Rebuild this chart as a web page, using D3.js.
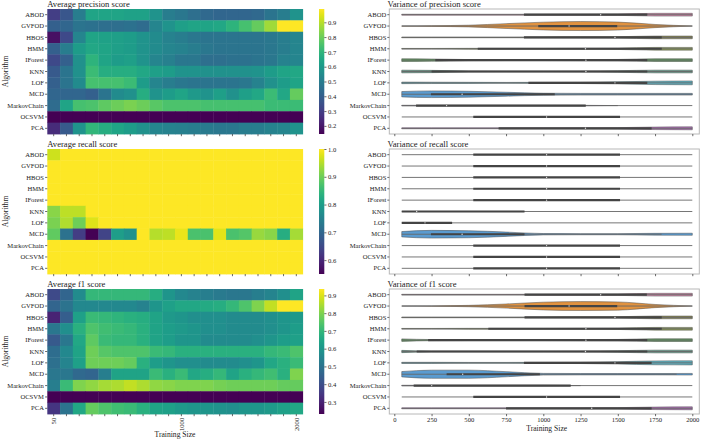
<!DOCTYPE html>
<html><head><meta charset="utf-8">
<script src="https://cdn.jsdelivr.net/npm/d3@7"></script>
<style>
body{margin:0;background:#fff}
svg{display:block}
text{font-family:"Liberation Serif","Times New Roman",serif;fill:#222}
</style>
</head><body>
<svg id="c" width="708" height="440"></svg>
<script>
const algorithms = ["ABOD","GVFOD","HBOS","HMM","IForest","KNN","LOF","MCD","MarkovChain","OCSVM","PCA"];
const sizeLabels = ["50","","","","","","","","","","1000","","","","","","","","","2000"];

const precisionAvg = [
 [0.30,0.37,0.50,0.64,0.64,0.64,0.63,0.63,0.58,0.50,0.48,0.45,0.43,0.42,0.42,0.42,0.43,0.47,0.50,0.58],
 [0.40,0.42,0.47,0.46,0.45,0.45,0.46,0.44,0.53,0.58,0.62,0.64,0.64,0.65,0.69,0.74,0.79,0.87,0.99,0.99],
 [0.18,0.33,0.53,0.64,0.63,0.62,0.61,0.58,0.55,0.52,0.50,0.48,0.47,0.47,0.47,0.47,0.47,0.48,0.50,0.53],
 [0.40,0.50,0.61,0.65,0.64,0.62,0.61,0.58,0.55,0.53,0.52,0.50,0.48,0.47,0.47,0.47,0.47,0.48,0.50,0.53],
 [0.33,0.40,0.57,0.69,0.64,0.61,0.62,0.58,0.53,0.51,0.48,0.48,0.45,0.45,0.46,0.46,0.47,0.48,0.52,0.53],
 [0.38,0.47,0.57,0.72,0.67,0.67,0.67,0.65,0.62,0.61,0.58,0.58,0.57,0.57,0.57,0.57,0.58,0.61,0.64,0.65],
 [0.40,0.47,0.55,0.74,0.74,0.74,0.72,0.61,0.53,0.50,0.48,0.47,0.47,0.47,0.47,0.48,0.52,0.57,0.61,0.64],
 [0.42,0.42,0.42,0.40,0.47,0.55,0.57,0.67,0.58,0.61,0.64,0.60,0.58,0.62,0.57,0.62,0.65,0.72,0.65,0.79],
 [0.44,0.64,0.74,0.75,0.78,0.80,0.82,0.80,0.77,0.75,0.75,0.75,0.74,0.74,0.74,0.74,0.74,0.72,0.72,0.72],
 [0.145,0.145,0.145,0.145,0.145,0.145,0.145,0.145,0.145,0.145,0.145,0.145,0.145,0.145,0.145,0.145,0.145,0.145,0.145,0.145],
 [0.25,0.38,0.58,0.70,0.67,0.64,0.61,0.57,0.53,0.52,0.51,0.50,0.49,0.48,0.48,0.50,0.50,0.52,0.53,0.58]
];
const recallAvg = [
 [0.965,1,1,1,1,1,1,1,1,1,1,1,1,1,1,1,1,1,1,1],
 [1,1,1,1,1,1,1,1,1,1,1,1,1,1,1,1,1,1,1,1],
 [1,1,1,1,1,1,1,1,1,1,1,1,1,1,1,1,1,1,1,1],
 [1,1,1,1,1,1,1,1,1,1,1,1,1,1,1,1,1,1,1,1],
 [1,1,1,1,1,1,1,1,1,1,1,1,1,1,1,1,1,1,1,1],
 [0.92,0.955,0.955,1,1,1,1,1,1,1,1,1,1,1,1,1,1,1,1,1],
 [0.91,0.946,0.90,0.978,1,1,1,1,1,1,1,1,1,1,1,1,1,1,1,1],
 [0.89,0.72,0.63,0.55,0.64,0.80,0.78,1.0,0.95,0.955,0.985,0.87,0.87,0.98,0.87,0.88,0.93,0.92,0.83,0.94],
 [1,1,1,1,1,1,1,1,1,1,1,1,1,1,1,1,1,1,1,1],
 [1,1,1,1,1,1,1,1,1,1,1,1,1,1,1,1,1,1,1,1],
 [1,1,1,1,1,1,1,1,1,1,1,1,1,1,1,1,1,1,1,1]
];
const f1Avg = [
 [0.39,0.46,0.57,0.70,0.70,0.70,0.70,0.70,0.67,0.60,0.56,0.54,0.53,0.52,0.51,0.51,0.53,0.55,0.58,0.64],
 [0.46,0.50,0.56,0.56,0.56,0.56,0.56,0.54,0.60,0.63,0.65,0.65,0.66,0.67,0.70,0.74,0.80,0.87,0.936,0.936],
 [0.30,0.44,0.63,0.71,0.70,0.69,0.68,0.67,0.64,0.61,0.60,0.58,0.58,0.58,0.57,0.57,0.57,0.58,0.60,0.61],
 [0.51,0.58,0.68,0.74,0.72,0.71,0.70,0.68,0.64,0.62,0.61,0.60,0.58,0.58,0.57,0.57,0.57,0.58,0.60,0.62],
 [0.43,0.51,0.65,0.76,0.71,0.70,0.70,0.68,0.64,0.62,0.60,0.60,0.57,0.57,0.57,0.57,0.58,0.60,0.62,0.63],
 [0.48,0.56,0.64,0.78,0.75,0.74,0.74,0.74,0.71,0.70,0.68,0.68,0.68,0.68,0.68,0.68,0.68,0.70,0.71,0.74],
 [0.49,0.55,0.63,0.78,0.78,0.78,0.77,0.68,0.62,0.60,0.58,0.58,0.57,0.57,0.57,0.58,0.60,0.65,0.68,0.71],
 [0.51,0.51,0.47,0.46,0.53,0.64,0.64,0.64,0.71,0.68,0.71,0.65,0.67,0.70,0.64,0.68,0.70,0.72,0.68,0.80],
 [0.53,0.71,0.80,0.82,0.84,0.85,0.87,0.85,0.82,0.81,0.80,0.80,0.80,0.79,0.78,0.78,0.78,0.78,0.77,0.77],
 [0.232,0.232,0.232,0.232,0.232,0.232,0.232,0.232,0.232,0.232,0.232,0.232,0.232,0.232,0.232,0.232,0.232,0.232,0.232,0.232],
 [0.34,0.50,0.65,0.77,0.74,0.72,0.71,0.68,0.64,0.63,0.61,0.60,0.60,0.59,0.58,0.60,0.60,0.61,0.63,0.65]
];
const precisionTicks = [0.2,0.3,0.4,0.5,0.6,0.7,0.8,0.9];
const recallTicks = [0.6,0.7,0.8,0.9,1.0];
const f1Ticks = [0.3,0.4,0.5,0.6,0.7,0.8,0.9];

// violin data: relative density at training sizes, inner box [q1, median, q3], whisker [lo, hi]
const violinSizes = [50,250,500,750,1000,1250,1500,1750,2000];
const sizeTicks = [0,250,500,750,1000,1250,1500,1750,2000];
const violinColors = ["#d68aae","#e1923f","#8c8a58","#8fa055","#5c9a5a","#5e9a88","#5fb3c3","#5a9bd0","#8c7ab8","#a0a0a0","#b070b8"];

const precisionDensity = [
 [0.08,0.08,0.08,0.08,0.08,0.10,0.12,0.24,0.24],
 [0.02,0.06,0.15,0.42,0.68,0.79,0.70,0.28,0.0],
 [0.06,0.06,0.06,0.06,0.08,0.10,0.12,0.24,0.24],
 [0.06,0.06,0.08,0.08,0.08,0.10,0.12,0.24,0.24],
 [0.24,0.20,0.10,0.08,0.08,0.10,0.12,0.24,0.24],
 [0.24,0.20,0.10,0.08,0.08,0.10,0.14,0.24,0.24],
 [0.14,0.12,0.10,0.08,0.10,0.12,0.18,0.30,0.34],
 [0.47,0.59,0.52,0.35,0.18,0.15,0.15,0.15,0.15],
 [0.06,0.06,0.06,0.06,0.06,0.05,0,0,0],
 [0,0,0,0,0,0,0,0,0],
 [0.08,0.08,0.08,0.08,0.08,0.10,0.12,0.22,0.26]
];
const precisionBox = [[870,1385,1698],[966,1173,1496],[870,1481,1795],[560,1283,1795],[275,1286,1698],[250,1286,1698],[900,1481,1698],[246,455,1077],[146,351,1285],[530,1022,1515],[700,1283,1727]];
const precisionWhisker = [[50,2000],[50,2000],[50,2000],[50,2000],[50,2000],[50,2000],[50,2000],[50,2000],[50,2000],[50,2000],[50,2000]];

const recallDensity = [
 [0,0,0,0,0,0,0,0,0],
 [0,0,0,0,0,0,0,0,0],
 [0,0,0,0,0,0,0,0,0],
 [0,0,0,0,0,0,0,0,0],
 [0,0,0,0,0,0,0,0,0],
 [0,0,0,0,0,0,0,0,0],
 [0,0,0,0,0,0,0,0,0],
 [0.47,0.68,0.62,0.38,0.12,0.10,0.10,0.16,0.18],
 [0,0,0,0,0,0,0,0,0],
 [0,0,0,0,0,0,0,0,0],
 [0,0,0,0,0,0,0,0,0]
];
const recallBox = [[530,1022,1515],[530,1022,1515],[530,1022,1515],[530,1022,1515],[530,1022,1515],[50,150,874],[50,206,388],[246,455,874],[530,1022,1515],[530,1022,1515],[530,1022,1515]];
const recallWhisker = [[50,2000],[50,2000],[50,2000],[50,2000],[50,2000],[50,2000],[50,2000],[50,1794],[50,2000],[50,2000],[50,2000]];

const f1Density = [
 [0.07,0.07,0.07,0.07,0.08,0.10,0.12,0.24,0.24],
 [0.0,0.03,0.12,0.36,0.68,0.78,0.72,0.28,0.0],
 [0.06,0.06,0.06,0.06,0.08,0.10,0.12,0.24,0.24],
 [0.06,0.06,0.08,0.08,0.08,0.10,0.12,0.24,0.24],
 [0.22,0.10,0.08,0.08,0.08,0.10,0.12,0.24,0.24],
 [0.20,0.08,0.08,0.08,0.08,0.10,0.14,0.24,0.24],
 [0.10,0.10,0.08,0.08,0.10,0.12,0.20,0.34,0.36],
 [0.47,0.72,0.72,0.45,0.15,0.12,0.12,0.12,0.14],
 [0.06,0.06,0.06,0.06,0.06,0,0,0,0],
 [0,0,0,0,0,0,0,0,0],
 [0.08,0.08,0.08,0.08,0.08,0.10,0.12,0.22,0.26]
];
const f1Box = [[874,1385,1695],[874,1173,1496],[874,1481,1795],[631,1286,1795],[227,1286,1698],[150,1283,1698],[870,1481,1727],[351,459,977],[130,251,1184],[530,1022,1515],[750,1325,1727]];
const f1Whisker = [[50,2000],[50,2000],[50,2000],[50,2000],[50,2000],[50,2000],[50,2000],[50,1895],[50,2000],[50,2000],[50,2000]];

const svg = d3.select("#c");
const tops = [9, 149, 289], H = 125;
const hx0 = 47.3, hx1 = 302.7;
const cbX = 319, cbW = 5.3;
const vx0 = 389.3, vx1 = 699.3;
const tickFont = 6.6, titleFont = 8.6, labelFont = 7.6;

const panels = [
 {title:"Average precision score", data:precisionAvg, ticks:precisionTicks, vtitle:"Variance of precision score", dens:precisionDensity, box:precisionBox, wh:precisionWhisker},
 {title:"Average recall score", data:recallAvg, ticks:recallTicks, vtitle:"Variance of recall score", dens:recallDensity, box:recallBox, wh:recallWhisker},
 {title:"Average f1 score", data:f1Avg, ticks:f1Ticks, vtitle:"Variance of f1 score", dens:f1Density, box:f1Box, wh:f1Whisker}
];

const defs = svg.append("defs");
const grad = defs.append("linearGradient").attr("id","vir").attr("x1",0).attr("y1",1).attr("x2",0).attr("y2",0);
d3.range(0, 1.0001, 0.05).forEach(t => grad.append("stop").attr("offset", t).attr("stop-color", d3.interpolateViridis(t)));

function styleAxis(g){
  g.select(".domain").remove();
  g.selectAll(".tick line").attr("stroke","#444").attr("stroke-width",0.8);
  g.selectAll(".tick text").style("font-size", tickFont+"px").style("font-family",'"Liberation Serif",serif').attr("fill","#222");
}

const xv = d3.scaleLinear().domain([-33.6, 2047]).range([vx0, vx1]);

panels.forEach((p, k) => {
  const top = tops[k];
  const last = k === 2;
  const y = d3.scaleBand().domain(algorithms).range([top, top + H]);
  const x = d3.scaleBand().domain(d3.range(sizeLabels.length)).range([hx0, hx1]);
  const ext = d3.extent(p.data.flat());
  const color = d3.scaleSequential(d3.interpolateViridis).domain(ext);

  const cells = [];
  p.data.forEach((row, i) => row.forEach((v, j) => cells.push({a: algorithms[i], j, v})));
  svg.append("g").selectAll("rect").data(cells).join("rect")
    .attr("x", d => x(d.j)).attr("y", d => y(d.a))
    .attr("width", x.bandwidth() + 0.4).attr("height", y.bandwidth() + 0.4)
    .attr("fill", d => color(d.v));

  svg.append("g").attr("transform", `translate(${hx0},0)`)
    .call(d3.axisLeft(y).tickSize(2.2).tickPadding(1.2)).call(styleAxis);
  const xa = svg.append("g").attr("transform", `translate(0,${top + H})`)
    .call(d3.axisBottom(x).tickSize(2.2).tickFormat(d => last ? sizeLabels[d] : "")).call(styleAxis);
  if (last) {
    xa.selectAll(".tick text").attr("transform","rotate(-90)").attr("x",-3.8).attr("y",0).attr("dy","0.35em").style("text-anchor","end");
  }

  svg.append("text").attr("x", hx0).attr("y", top - 2).style("font-size", titleFont+"px").text(p.title);
  svg.append("text").attr("transform", `translate(7.5,${top + H/2}) rotate(-90)`).attr("text-anchor","middle")
    .style("font-size", labelFont+"px").text("Algorithm");

  svg.append("rect").attr("x", cbX).attr("y", top).attr("width", cbW).attr("height", H).attr("fill","url(#vir)");
  const cs = d3.scaleLinear().domain(ext).range([top + H, top]);
  svg.append("g").attr("transform", `translate(${cbX + cbW},0)`)
    .call(d3.axisRight(cs).tickValues(p.ticks).tickFormat(d3.format(".1f")).tickSize(2.2).tickPadding(1.5)).call(styleAxis);

  svg.append("text").attr("x", 387.5).attr("y", top - 2).style("font-size", titleFont+"px").text(p.vtitle);
  const yv = d3.scaleBand().domain(algorithms).range([top, top + H]);
  const half = yv.bandwidth() / 2;
  const wScale = d3.scaleLinear().domain([0, 1]).range([0, half]);
  const vg = svg.append("g");
  algorithms.forEach((a, i) => {
    const cy = yv(a) + half;
    const dens = p.dens[i];
    const pts = violinSizes.map((s, m) => [s, dens[m]]).filter((d, m) =>
      d[1] > 0 || (m > 0 && dens[m-1] > 0) || (m < dens.length - 1 && dens[m+1] > 0));
    if (pts.length > 1) {
      const area = d3.area().x(d => xv(d[0])).y0(d => cy - wScale(d[1])).y1(d => cy + wScale(d[1])).curve(d3.curveMonotoneX);
      vg.append("path").attr("d", area(pts)).attr("fill", violinColors[i])
        .attr("stroke", "#4a4a4a").attr("stroke-width", 0.5);
    }
    const [lo, hi] = p.wh[i];
    vg.append("line").attr("x1", xv(lo)).attr("x2", xv(hi)).attr("y1", cy).attr("y2", cy)
      .attr("stroke", "#666").attr("stroke-width", 0.9);
    const [q1, med, q3] = p.box[i];
    vg.append("line").attr("x1", xv(q1)).attr("x2", xv(q3)).attr("y1", cy).attr("y2", cy)
      .attr("stroke", "#444").attr("stroke-width", 2.2);
    vg.append("circle").attr("cx", xv(med)).attr("cy", cy).attr("r", 0.7).attr("fill", "#fff").attr("opacity", 0.8);
  });
  svg.append("rect").attr("x", vx0).attr("y", top).attr("width", vx1 - vx0).attr("height", H)
    .attr("fill","none").attr("stroke","#b8b8b8").attr("stroke-width",1);
  svg.append("g").attr("transform", `translate(${vx0},0)`)
    .call(d3.axisLeft(yv).tickSize(2).tickPadding(1)).call(styleAxis);
  svg.append("g").attr("transform", `translate(0,${top + H})`)
    .call(d3.axisBottom(xv).tickValues(sizeTicks).tickSize(2.2).tickPadding(1.5).tickFormat(d => last ? d : "")).call(styleAxis);
});

svg.append("text").attr("x", (hx0 + hx1) / 2).attr("y", 437).attr("text-anchor","middle").style("font-size", labelFont+"px").text("Training Size");
svg.append("text").attr("x", 546.7).attr("y", 431).attr("text-anchor","middle").style("font-size", labelFont+"px").text("Training Size");
</script>
</body></html>
